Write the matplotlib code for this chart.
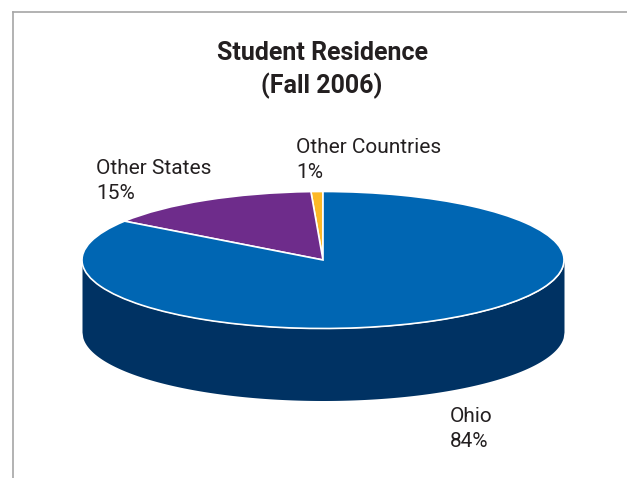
import numpy as np
import matplotlib.pyplot as plt
from matplotlib.lines import Line2D

W, H = 627, 478

# Data
labels = ["Other Countries", "Other States", "Ohio"]
shares = [1, 15, 84]
# slice sizes as measured on the picture, they differ a little from the printed shares
drawn = [0.8, 14.6, 84.6]
colors = ["#FDB827", "#6E2C8B", "#0066B3"]
side_color = "#003263"
title_lines = "Student Residence\n(Fall 2006)"

# pie geometry in pixels
cx, cy = 323, 260
rx, ry = 241, 68.5
depth = 72 / ry

plt.rcParams['font.family'] = ['Roboto', 'DejaVu Sans']

fig = plt.figure(figsize=(W / 100, H / 100), dpi=100)
ax = fig.add_axes([0, 0, 1, 1])

ax.pie(drawn, colors=colors, startangle=90, counterclock=True,
       wedgeprops={'edgecolor': 'white', 'linewidth': 1.2, 'zorder': 3})

# stretch the circle into the tilted ellipse
ax.set_aspect('auto')
ax.set_xlim(-cx / rx, (W - cx) / rx)
ax.set_ylim((cy - H) / ry, cy / ry)
ax.axis('off')

# side wall below the front rim
xs = np.linspace(-1, 1, 600)
rim = -np.sqrt(1 - xs ** 2)
ax.fill_between(xs, rim - depth, rim, color=side_color, linewidth=0, zorder=1)

# frame: top and left only
ink = "#231F20"
fig.add_artist(Line2D([13 / W, 13 / W], [0, 1 - 12 / H], color="#A6A6A6", lw=1.2))
fig.add_artist(Line2D([13 / W, 1], [1 - 12 / H, 1 - 12 / H], color="#A6A6A6", lw=1.2))

fig.text(322 / W, 1 - 70 / H, title_lines, ha='center', va='center', fontsize=18,
         fontweight='bold', color=ink, linespacing=1.33)

label_pos = {"Other Countries": (296, 160), "Other States": (96, 181), "Ohio": (450, 429)}
for name, share in zip(labels, shares):
    px, py = label_pos[name]
    fig.text(px / W, 1 - py / H, f"{name}\n{share}%", ha='left', va='center',
             fontsize=15, color=ink, linespacing=1.4)

fig.savefig("out.png", dpi=100)
